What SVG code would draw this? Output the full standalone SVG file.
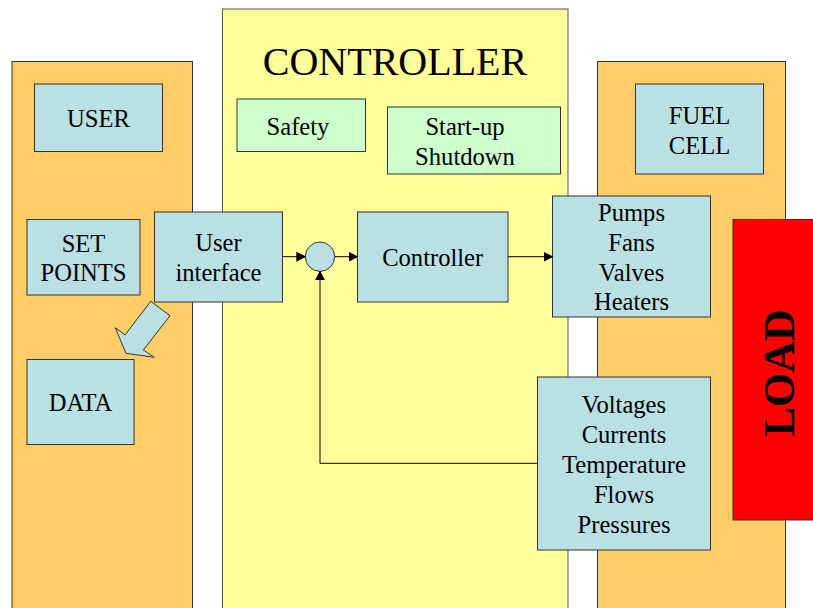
<svg xmlns="http://www.w3.org/2000/svg" width="813" height="608" viewBox="0 0 813 608">
<style>
.panel-o{fill:#FFCC66;stroke:#333;stroke-width:1}
.panel-y{fill:#FFFF99;stroke:#555;stroke-width:1}
.box{fill:#BBE0E3;stroke:#333;stroke-width:1}
.gbox{fill:#CCFFCC;stroke:#333;stroke-width:1}
.t{font-family:"Liberation Serif","Times New Roman",serif;font-size:24.6px;fill:#000;text-anchor:middle}
.conn{stroke:#000;stroke-width:1;fill:none}
</style>
<defs>
<marker id="ah" markerWidth="10" markerHeight="10" refX="9" refY="5" orient="auto" markerUnits="userSpaceOnUse">
<path d="M0,0 L10,5 L0,10 Z" fill="#000"/>
</marker>
</defs>
<rect width="813" height="608" fill="#fff"/>
<g id="panel-user"><rect class="panel-o" x="12" y="61.5" width="180.5" height="560"/></g>
<g id="panel-controller"><rect class="panel-y" x="222.5" y="9" width="345.5" height="610"/>
<text class="t" x="395" y="75" style="font-size:40px">CONTROLLER</text></g>
<g id="panel-fuelcell"><rect class="panel-o" x="597.5" y="61.5" width="188" height="560"/></g>
<g id="user"><rect class="box" x="34.5" y="84" width="128" height="67.5"/><text class="t" x="98.5" y="127">USER</text></g>
<g id="setpoints"><rect class="box" x="27" y="219.5" width="113" height="75.5"/><text class="t" x="83.5" y="251.5">SET</text><text class="t" x="83.5" y="280.5">POINTS</text></g>
<g id="data-arrow"><polygon points="150.7,301.3 170,315.7 143.3,350 154.3,357.3 126,353.3 115.3,327.7 125,335" fill="#BBE0E3" stroke="#333" stroke-width="1"/></g>
<g id="data"><rect class="box" x="27" y="359.5" width="107" height="85"/><text class="t" x="80.5" y="410.5">DATA</text></g>
<g id="user-interface"><rect class="box" x="154.5" y="212" width="128" height="90"/><text class="t" x="218.5" y="251">User</text><text class="t" x="218.5" y="280.5">interface</text></g>
<g id="safety"><rect class="gbox" x="237" y="99" width="128.5" height="52.5"/><text class="t" x="298" y="135">Safety</text></g>
<g id="startup"><rect class="gbox" x="387.5" y="107" width="173" height="67"/><text class="t" x="465" y="135">Start-up</text><text class="t" x="465" y="164.5">Shutdown</text></g>
<g id="sum"><circle cx="320" cy="256.7" r="14.7" fill="#BBE0E3" stroke="#333" stroke-width="1"/></g>
<g id="controller"><rect class="box" x="357.5" y="212" width="150.5" height="90"/><text class="t" x="432.7" y="265.5">Controller</text></g>
<g id="actuators"><rect class="box" x="552.5" y="196" width="158" height="121"/><text class="t" x="631.5" y="220.5">Pumps</text><text class="t" x="631.5" y="250.5">Fans</text><text class="t" x="631.5" y="280.5">Valves</text><text class="t" x="631.5" y="310">Heaters</text></g>
<g id="fuelcell"><rect class="box" x="635.5" y="84" width="128" height="90"/><text class="t" x="699.5" y="124">FUEL</text><text class="t" x="699.5" y="153.5">CELL</text></g>
<g id="load"><rect x="733" y="219.5" width="90" height="300.5" fill="#FF0000" stroke="#333" stroke-width="1"/><text x="794" y="372.8" transform="rotate(-90 794 372.8)" style="font-family:'Liberation Serif','Times New Roman',serif;font-size:44px;font-weight:bold;text-anchor:middle" fill="#000">LOAD</text></g>
<g id="sensors"><rect class="box" x="537.5" y="377" width="173" height="173"/><text class="t" x="624" y="412.5">Voltages</text><text class="t" x="624" y="442.5">Currents</text><text class="t" x="624" y="472.5">Temperature</text><text class="t" x="624" y="502.5">Flows</text><text class="t" x="624" y="532.5">Pressures</text></g>
<g id="connectors">
<line class="conn" x1="282.5" y1="256.7" x2="305.3" y2="256.7" marker-end="url(#ah)"/>
<line class="conn" x1="334.7" y1="256.7" x2="357.5" y2="256.7" marker-end="url(#ah)"/>
<line class="conn" x1="508" y1="256.7" x2="552.5" y2="256.7" marker-end="url(#ah)"/>
<polyline class="conn" points="537.5,463.3 320,463.3 320,271.4" marker-end="url(#ah)"/>
</g>
</svg>
